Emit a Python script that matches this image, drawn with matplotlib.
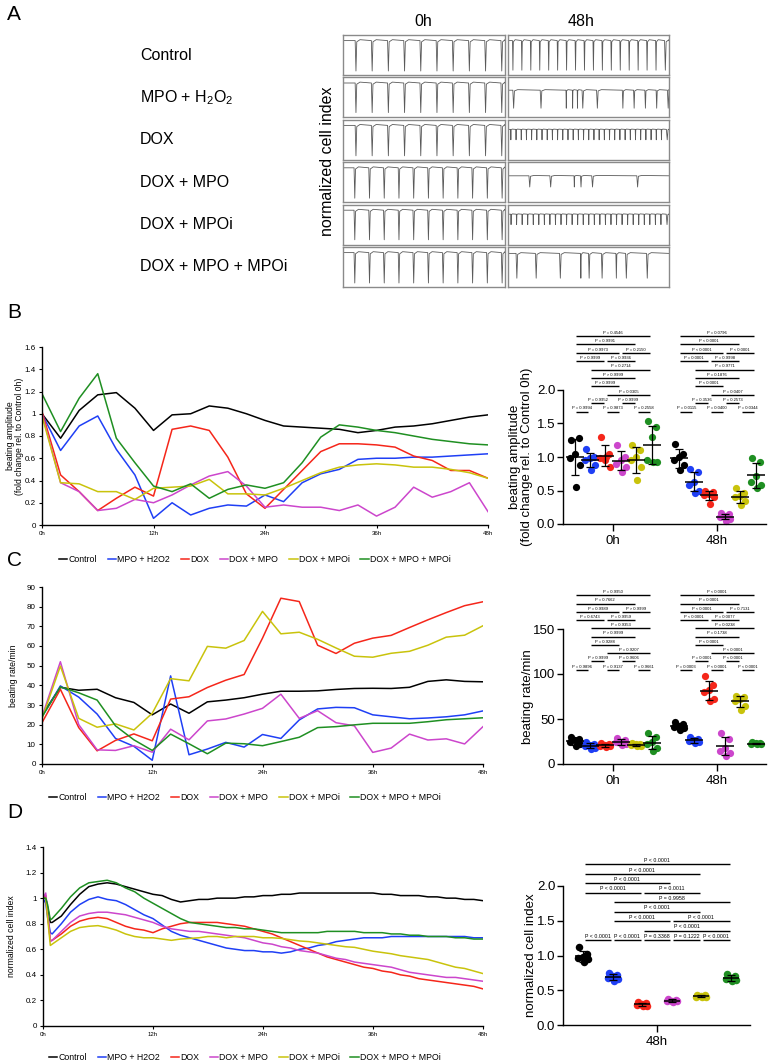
import numpy as np
import matplotlib
matplotlib.use('Agg')
import matplotlib.pyplot as plt
from matplotlib.lines import Line2D
from matplotlib.ticker import FuncFormatter
from matplotlib import font_manager

plt.rcParams['font.family'] = ['Liberation Sans', 'DejaVu Sans']
plt.rcParams['mathtext.fontset'] = 'custom'
plt.rcParams['mathtext.rm'] = 'Liberation Sans'
plt.rcParams['axes.linewidth'] = 1.0

_names = {f.name for f in font_manager.fontManager.ttflist}
NARROW = 'Liberation Sans Narrow' if 'Liberation Sans Narrow' in _names else 'Liberation Sans'
NARROW_FS = 13.5 if NARROW == 'Liberation Sans Narrow' else 11.5

# ---------------------------------------------------------------- data
GROUPS = ['Control', 'MPO + H2O2', 'DOX', 'DOX + MPO', 'DOX + MPOi', 'DOX + MPO + MPOi']
COLORS = ['#000000', '#1f3ff5', '#f5261a', '#cc46cc', '#c9c30c', '#1f8f22']

# Panel A (example traces)
A_ROW_LABELS = ['Control', 'MPO + H$_{\\mathregular{2}}$O$_{\\mathregular{2}}$', 'DOX',
                'DOX + MPO', 'DOX + MPOi', 'DOX + MPO + MPOi']
A_BEATS_0H = [10, 10, 10, 11, 11, 11]
A_DEPTH_0H = [0.76, 0.74, 0.76, 0.76, 0.74, 0.76]
A_BEATS_48H = [18,
               [0.03, 0.20, 0.36, 0.40, 0.43, 0.46, 0.55, 0.71, 0.78, 0.85, 0.92, 0.99],
               31,
               [0.13, 0.26, 0.41, 0.45, 0.52, 0.80],
               29,
               [0.05, 0.17, 0.32, 0.45, 0.50, 0.58, 0.67, 0.73, 0.86]]
A_DEPTH_48H = [0.74, 0.45, 0.26, 0.28, 0.26, 0.62]
A_BASE_48H = [0.86, 0.68, 0.76, 0.66, 0.76, 0.84]

# Panel B / C line charts (every 2 h)
TIME_H = list(range(0, 49, 2))
AMP_CONTROL = [1.0, 0.78, 1.03, 1.17, 1.19, 1.05, 0.85, 0.99, 1.0, 1.07, 1.05, 1.0, 0.94,
               0.89, 0.88, 0.87, 0.86, 0.83, 0.85, 0.88, 0.89, 0.91, 0.94, 0.97, 0.99]
AMP_MPO_H2O2 = [1.0, 0.67, 0.89, 0.98, 0.68, 0.45, 0.06, 0.20, 0.09, 0.15, 0.18, 0.17, 0.27,
                0.21, 0.38, 0.46, 0.50, 0.59, 0.60, 0.60, 0.61, 0.61, 0.62, 0.63, 0.64]
AMP_DOX = [1.02, 0.45, 0.30, 0.13, 0.24, 0.34, 0.26, 0.86, 0.89, 0.85, 0.61, 0.28, 0.15,
           0.32, 0.49, 0.66, 0.73, 0.73, 0.72, 0.70, 0.62, 0.58, 0.49, 0.49, 0.42]
AMP_DOX_MPO = [1.0, 0.38, 0.30, 0.13, 0.15, 0.23, 0.20, 0.27, 0.36, 0.44, 0.48, 0.35, 0.16,
               0.18, 0.16, 0.16, 0.13, 0.18, 0.08, 0.16, 0.34, 0.25, 0.30, 0.38, 0.12]
AMP_DOX_MPOI = [0.98, 0.38, 0.37, 0.30, 0.30, 0.23, 0.33, 0.34, 0.35, 0.41, 0.28, 0.28, 0.27,
                0.33, 0.40, 0.47, 0.52, 0.54, 0.55, 0.54, 0.52, 0.52, 0.50, 0.47, 0.42]
AMP_DOX_MPO_MPOI = [1.18, 0.84, 1.14, 1.36, 0.78, 0.56, 0.35, 0.30, 0.37, 0.24, 0.32, 0.36, 0.33,
                    0.38, 0.56, 0.79, 0.90, 0.88, 0.85, 0.83, 0.80, 0.77, 0.75, 0.73, 0.72]

RATE_CONTROL = [25, 39, 37.5, 38, 33.7, 31.3, 25, 30.5, 25.8, 31.6, 32.5, 33.7, 35.5,
                37, 37, 37.2, 37.9, 38.4, 38.5, 38.4, 39, 42, 42.8, 42, 41.8]
RATE_MPO_H2O2 = [24, 39.7, 34, 25.4, 13, 9, 1.9, 44.8, 4.7, 7.6, 11, 8.6, 15,
                 13, 22.4, 28, 28.8, 28.6, 25, 24, 23, 23.4, 24, 25, 27]
RATE_DOX = [21, 38, 18.5, 6.7, 12, 15.3, 11.8, 33, 34.2, 38.9, 42.6, 45.5, 64,
            84.3, 82.6, 60.4, 56.2, 61.4, 64, 65.4, 69.4, 73.3, 77, 80.5, 82.5]
RATE_DOX_MPO = [24, 52, 20, 7.2, 6.9, 9.3, 6, 17.7, 12.3, 21.9, 22.9, 25.4, 28.3,
                35.5, 23.2, 27.1, 21, 19.4, 5.9, 8.1, 15.2, 12.2, 12.8, 10.2, 19]
RATE_DOX_MPOI = [23, 49.8, 23.2, 18.7, 20.4, 17.3, 25.8, 43.4, 42.3, 59.8, 58.9, 62.8, 77.6,
                 66.2, 67, 63.4, 59, 54.8, 54.3, 56.3, 57.3, 60.4, 64.5, 65.5, 70.3]
RATE_DOX_MPO_MPOI = [24, 39.2, 36.2, 32.5, 19.4, 12.3, 6.9, 15.2, 10.3, 5.2, 10.6, 10.3, 9.3,
                     11.4, 13.6, 18.5, 19, 19.9, 20.7, 20.7, 20.7, 21.5, 22.5, 23, 23.5]

# Panel D line chart (hours)
CI_TIME_H = [0, 0.3, 0.5, 0.8] + list(range(1, 49))
CI_CONTROL = [1.0, 1.0, 0.93, 0.81, 0.81, 0.86, 0.95, 1.03, 1.09, 1.11, 1.12, 1.11, 1.09, 1.07,
              1.05, 1.03, 1.02, 0.99, 0.97, 0.98, 0.99, 0.99, 1.0, 1.0, 1.0, 1.01, 1.01, 1.02,
              1.02, 1.03, 1.03, 1.04, 1.04, 1.04, 1.04, 1.04, 1.04, 1.04, 1.04, 1.04, 1.03,
              1.03, 1.02, 1.02, 1.02, 1.01, 1.01, 1.0, 1.0, 0.99, 0.99, 0.98]
CI_MPO_H2O2 = [1.0, 0.96, 0.85, 0.73, 0.72, 0.80, 0.89, 0.95, 0.99, 1.01, 0.99, 0.98, 0.95, 0.91,
               0.87, 0.84, 0.79, 0.74, 0.71, 0.69, 0.67, 0.65, 0.63, 0.61, 0.60, 0.59, 0.59,
               0.58, 0.58, 0.57, 0.58, 0.60, 0.61, 0.63, 0.64, 0.66, 0.67, 0.68, 0.69, 0.69,
               0.69, 0.70, 0.70, 0.70, 0.70, 0.70, 0.70, 0.70, 0.70, 0.70, 0.69, 0.69]
CI_DOX = [1.0, 1.02, 0.88, 0.67, 0.67, 0.72, 0.78, 0.82, 0.84, 0.85, 0.84, 0.81, 0.78, 0.76,
          0.75, 0.73, 0.76, 0.78, 0.80, 0.81, 0.81, 0.81, 0.81, 0.80, 0.79, 0.78, 0.76, 0.74,
          0.72, 0.69, 0.66, 0.63, 0.60, 0.57, 0.54, 0.52, 0.50, 0.48, 0.46, 0.45, 0.43, 0.42,
          0.40, 0.39, 0.37, 0.36, 0.35, 0.34, 0.33, 0.32, 0.31, 0.29]
CI_DOX_MPO = [1.0, 1.04, 0.88, 0.66, 0.67, 0.74, 0.81, 0.86, 0.88, 0.89, 0.89, 0.88, 0.87, 0.85,
              0.83, 0.81, 0.78, 0.76, 0.75, 0.74, 0.74, 0.73, 0.72, 0.71, 0.70, 0.69, 0.67,
              0.65, 0.64, 0.62, 0.61, 0.59, 0.58, 0.57, 0.55, 0.53, 0.52, 0.50, 0.49, 0.48,
              0.47, 0.46, 0.44, 0.42, 0.41, 0.40, 0.39, 0.38, 0.38, 0.37, 0.36, 0.35]
CI_DOX_MPOI = [1.0, 1.0, 0.85, 0.63, 0.64, 0.69, 0.74, 0.77, 0.78, 0.785, 0.77, 0.75, 0.72, 0.70,
               0.69, 0.69, 0.68, 0.67, 0.68, 0.685, 0.69, 0.70, 0.70, 0.69, 0.70, 0.70, 0.70,
               0.69, 0.69, 0.685, 0.675, 0.665, 0.66, 0.65, 0.64, 0.63, 0.62, 0.615, 0.60,
               0.585, 0.575, 0.565, 0.55, 0.54, 0.53, 0.52, 0.50, 0.48, 0.46, 0.45, 0.43, 0.41]
CI_DOX_MPO_MPOI = [1.0, 1.0, 0.95, 0.83, 0.84, 0.92, 1.01, 1.08, 1.12, 1.13, 1.14, 1.12, 1.08,
                   1.05, 1.0, 0.96, 0.92, 0.88, 0.84, 0.81, 0.80, 0.79, 0.78, 0.77, 0.77, 0.76,
                   0.76, 0.75, 0.74, 0.73, 0.73, 0.73, 0.73, 0.73, 0.74, 0.74, 0.74, 0.74, 0.73,
                   0.73, 0.73, 0.72, 0.72, 0.71, 0.71, 0.70, 0.70, 0.70, 0.69, 0.69, 0.68, 0.68]

# Scatter data (n = 6 per group)
AMP_0H = [[1.25, 1.28, 1.05, 0.98, 0.88, 0.55],
          [1.12, 1.0, 0.98, 0.95, 0.88, 0.80],
          [1.30, 1.05, 0.95, 0.98, 0.85, 1.0],
          [1.18, 1.0, 0.95, 0.90, 0.85, 0.78],
          [1.18, 1.10, 1.0, 0.95, 0.85, 0.65],
          [1.53, 1.45, 1.30, 0.95, 0.92, 0.92]]
AMP_48H = [[1.20, 1.05, 1.0, 0.95, 0.88, 0.80],
           [0.82, 0.78, 0.63, 0.58, 0.50, 0.47],
           [0.50, 0.48, 0.45, 0.43, 0.40, 0.30],
           [0.17, 0.15, 0.12, 0.10, 0.08, 0.05],
           [0.53, 0.47, 0.42, 0.40, 0.35, 0.28],
           [0.98, 0.93, 0.72, 0.62, 0.58, 0.53]]
RATE_0H = [[30, 28, 27, 25, 22, 20],
           [25, 22, 21, 20, 18, 17],
           [23, 22, 21, 20, 20, 19],
           [29, 27, 25, 24, 22, 21],
           [23, 22, 22, 21, 20, 20],
           [34, 30, 25, 22, 18, 14]]
RATE_48H = [[47, 44, 42, 41, 40, 38],
            [30, 28, 27, 26, 24, 23],
            [98, 88, 82, 80, 72, 70],
            [35, 28, 18, 15, 12, 9],
            [76, 74, 72, 70, 65, 60],
            [24, 23, 23, 22, 22, 22]]
CI_48H = [[1.12, 1.02, 0.98, 0.96, 0.95, 0.90],
          [0.75, 0.72, 0.70, 0.68, 0.66, 0.63],
          [0.33, 0.31, 0.30, 0.29, 0.28, 0.27],
          [0.38, 0.36, 0.35, 0.34, 0.34, 0.33],
          [0.43, 0.43, 0.42, 0.41, 0.41, 0.40],
          [0.74, 0.70, 0.67, 0.66, 0.65, 0.64]]

# Multiple comparisons (pairs of group indices per bracket row)
BR_ROWS_BC = [[(0, 5)], [(0, 4)], [(0, 3), (3, 5)], [(0, 2), (2, 4)], [(1, 5)], [(1, 4)],
              [(1, 3)], [(2, 5)], [(1, 2), (3, 4)], [(0, 1), (2, 3), (4, 5)]]
P_AMP_0H = ['P = 0.4546', 'P = 0.9991', 'P = 0.9973', 'P = 0.2150', 'P > 0.9999', 'P = 0.9936',
            'P = 0.2714', 'P > 0.9999', 'P > 0.9999', 'P = 0.0305', 'P = 0.9952', 'P > 0.9999',
            'P = 0.9994', 'P = 0.9873', 'P = 0.2558']
P_AMP_48H = ['P = 0.0796', 'P < 0.0001', 'P < 0.0001', 'P < 0.0001', 'P = 0.0001', 'P = 0.9998',
             'P = 0.9771', 'P = 0.1876', 'P < 0.0001', 'P = 0.0407', 'P = 0.3536', 'P = 0.2573',
             'P = 0.0115', 'P = 0.0400', 'P = 0.0344']
P_RATE_0H = ['P = 0.9950', 'P = 0.7662', 'P = 0.9989', 'P > 0.9999', 'P = 0.6743', 'P = 0.9959',
             'P = 0.9353', 'P > 0.9999', 'P = 0.9288', 'P = 0.9207', 'P > 0.9999', 'P = 0.9606',
             'P = 0.9896', 'P = 0.9137', 'P = 0.9661']
P_RATE_48H = ['P < 0.0001', 'P = 0.0001', 'P < 0.0001', 'P = 0.7131', 'P < 0.0001', 'P = 0.0077',
              'P = 0.0238', 'P = 0.1738', 'P < 0.0001', 'P < 0.0001', 'P = 0.0001', 'P < 0.0001',
              'P = 0.0003', 'P < 0.0001', 'P < 0.0001']
BR_ROWS_D = [[(0, 5)], [(0, 4)], [(0, 3)], [(0, 2), (2, 4)], [(1, 5)], [(1, 4)],
             [(1, 3), (3, 5)], [(2, 5)], [(0, 1), (1, 2), (2, 3), (3, 4), (4, 5)]]
P_CI_48H = ['P < 0.0001', 'P < 0.0001', 'P < 0.0001', 'P < 0.0001', 'P = 0.0011', 'P = 0.9958',
            'P < 0.0001', 'P < 0.0001', 'P < 0.0001', 'P < 0.0001', 'P < 0.0001', 'P < 0.0001',
            'P = 0.3368', 'P = 0.1222', 'P < 0.0001']

# ---------------------------------------------------------------- layout helpers
W, H = 768, 1063
fig = plt.figure(figsize=(W / 100, H / 100), dpi=100)


def add_ax(l, t, r, b):
    return fig.add_axes([l / W, 1 - b / H, (r - l) / W, (b - t) / H])


def fx(x):
    return x / W


def fy(y):
    return 1 - y / H


def short_fmt(v, p=None):
    s = f'{v:.1f}'
    return s[:-2] if s.endswith('.0') else s


# ---------------------------------------------------------------- panel letters
for letter, y in zip('ABCD', [14, 313, 561, 813]):
    fig.text(fx(7), fy(y), letter, fontsize=15, ha='left', va='center')

# ---------------------------------------------------------------- panel A
fig.text(fx(423), fy(21), '0h', fontsize=NARROW_FS, family=NARROW, ha='center', va='center')
fig.text(fx(581), fy(21), '48h', fontsize=NARROW_FS, family=NARROW, ha='center', va='center')
fig.text(fx(327), fy(161), 'normalized cell index', fontsize=11.5, rotation=90,
         ha='center', va='center')


def beat_trace(pos, depth, base):
    pos = sorted(pos)
    xs, ys = [0.0], [base]
    for k, p in enumerate(pos):
        nxt = pos[k + 1] if k + 1 < len(pos) else p + 0.1
        gap = max(min(nxt - p, 0.1), 0.02)
        xs += [p, p + 0.05 * gap, p + 0.1 * gap, p + 0.3 * gap]
        ys += [base, base - depth, base - 0.04 * depth, base + 0.03 * depth]
    xs.append(1.0)
    ys.append(base)
    xs = np.clip(xs, 0, 1)
    return xs, ys


ROW_TOP, ROW_H, ROW_GAP = 35, 40, 2.4
for i in range(6):
    t = ROW_TOP + i * (ROW_H + ROW_GAP)
    b = t + ROW_H
    fig.text(fx(140), fy((t + b) / 2), A_ROW_LABELS[i], fontsize=NARROW_FS, family=NARROW,
             ha='left', va='center')
    n0 = A_BEATS_0H[i]
    pos0 = list((np.arange(n0) + 0.75) / n0)
    b48 = A_BEATS_48H[i]
    pos48 = list((np.arange(b48) + 0.5) / b48) if isinstance(b48, int) else b48
    for (l, r), pos, dep, base in [((343, 505), pos0, A_DEPTH_0H[i], 0.86),
                                   ((508, 669), pos48, A_DEPTH_48H[i], A_BASE_48H[i])]:
        ax = add_ax(l, t, r, b)
        xs, ys = beat_trace(pos, dep, base)
        ax.plot(xs, ys, color='#5a5a5a', lw=0.6)
        ax.set_xlim(0, 1)
        ax.set_ylim(0, 1)
        ax.set_xticks([])
        ax.set_yticks([])
        for sp in ax.spines.values():
            sp.set_color('#8a8a8a')
            sp.set_linewidth(1.0)


# ---------------------------------------------------------------- line panels
def line_panel(box, t, series, ymax, ystep, ylabel, ylab_xy, leg_xy):
    ax = add_ax(*box)
    for vals, c in zip(series, COLORS):
        ax.plot(t, vals, color=c, lw=1.1)
    ax.set_xlim(0, 48)
    ax.set_ylim(0, ymax)
    ax.set_xticks([0, 12, 24, 36, 48])
    ax.set_xticklabels(['0h', '12h', '24h', '36h', '48h'])
    ax.set_yticks(np.arange(0, ymax + ystep / 2, ystep))
    ax.yaxis.set_major_formatter(FuncFormatter(short_fmt))
    for s in ['top', 'right']:
        ax.spines[s].set_visible(False)
    ax.tick_params(axis='y', labelsize=5.8, length=2.5, width=0.8, pad=2)
    ax.tick_params(axis='x', labelsize=4.4, length=2, width=0.8, pad=2)
    fig.text(fx(ylab_xy[0]), fy(ylab_xy[1]), ylabel, fontsize=6.2, rotation=90,
             ha='center', va='center', linespacing=1.1)
    handles = [Line2D([], [], color=c, lw=1.1) for c in COLORS]
    fig.legend(handles, GROUPS, ncol=6, loc='center left',
               bbox_to_anchor=(fx(leg_xy[0]), fy(leg_xy[1])), frameon=False,
               fontsize=6.3, handlelength=0.95, handletextpad=0.12, columnspacing=1.25,
               borderpad=0, borderaxespad=0)
    return ax


line_panel((42, 347, 488, 525), TIME_H,
           [AMP_CONTROL, AMP_MPO_H2O2, AMP_DOX, AMP_DOX_MPO, AMP_DOX_MPOI, AMP_DOX_MPO_MPOI],
           1.6, 0.2, 'beating amplitude\n(fold change rel. to Control 0h)', (15, 436), (59, 560))
line_panel((42, 587, 483, 764), TIME_H,
           [RATE_CONTROL, RATE_MPO_H2O2, RATE_DOX, RATE_DOX_MPO, RATE_DOX_MPOI, RATE_DOX_MPO_MPOI],
           90, 10, 'beating rate/min', (13, 676), (49, 798))
line_panel((43, 847, 483, 1026), CI_TIME_H,
           [CI_CONTROL, CI_MPO_H2O2, CI_DOX, CI_DOX_MPO, CI_DOX_MPOI, CI_DOX_MPO_MPOI],
           1.4, 0.2, 'normalized cell index', (12, 936), (49, 1058))

# ---------------------------------------------------------------- scatter panels
JITTER_PX = [-4, 4, 0, -5, 5, 1]


def dot_panel(box, ymax, centers_px, sp_px, datasets, xlabels, yticks, yfmt, ylabel, ylab_x,
              rows, plabels, row_top_px, row_step_px, fs, hw_px, ms):
    l, t, r, b = box
    ax = add_ax(l, t, r, b)
    if len(centers_px) > 1:
        unit = centers_px[1] - centers_px[0]
        x_of = [0, 1]
    else:
        unit = sp_px
        x_of = [0]
    x0px = centers_px[0]
    ax.set_xlim((l - x0px) / unit, (r - x0px) / unit)
    ax.set_ylim(0, ymax)
    sp = sp_px / unit
    ppy = ymax / (b - t)
    for xc, data in zip(x_of, datasets):
        for k, (vals, c) in enumerate(zip(data, COLORS)):
            gx = xc + (k - 2.5) * sp
            xs = gx + np.array(JITTER_PX) / unit
            ax.plot(xs, vals, 'o', color=c, ms=ms, mec='none', zorder=2, clip_on=False)
            m = np.mean(vals)
            s = np.std(vals, ddof=1)
            ax.hlines(m, gx - hw_px / unit, gx + hw_px / unit, color='k', lw=1.1, zorder=4)
            ax.errorbar([gx], [m], yerr=[s], fmt='none', ecolor='k', elinewidth=0.9,
                        capsize=2.6, capthick=0.9, zorder=4)
    for xc, labels in zip(x_of, plabels):
        it = iter(labels)
        for ri, pairs in enumerate(rows):
            ypx = row_top_px + ri * row_step_px
            y = (b - ypx) * ppy
            for (i, j) in pairs:
                x1 = xc + (i - 2.5) * sp + 1.5 / unit
                x2 = xc + (j - 2.5) * sp - 1.5 / unit
                ax.plot([x1, x2], [y, y], color='k', lw=1.0, clip_on=False,
                        solid_capstyle='butt')
                ax.text((x1 + x2) / 2, y + 1.2 * ppy, next(it), ha='center', va='bottom',
                        fontsize=fs, clip_on=False)
    ax.set_xticks(x_of)
    ax.set_xticklabels(xlabels)
    ax.set_yticks(yticks)
    ax.yaxis.set_major_formatter(FuncFormatter(lambda v, p: yfmt.format(v)))
    for s in ['top', 'right']:
        ax.spines[s].set_visible(False)
    for s in ['left', 'bottom']:
        ax.spines[s].set_linewidth(1.0)
    ax.tick_params(axis='both', labelsize=9.5, length=4, width=1.0)
    ax.tick_params(axis='y', pad=1.5)
    ax.tick_params(axis='x', pad=3, length=5)
    fig.text(fx(ylab_x), fy((t + b) / 2), ylabel, fontsize=9.5, rotation=90,
             ha='center', va='center', linespacing=1.05)
    return ax


dot_panel((563, 390, 766, 524), 2.0, [613, 717], 15.4, [AMP_0H, AMP_48H], ['0h', '48h'],
          [0, 0.5, 1.0, 1.5, 2.0], '{:.1f}',
          'beating amplitude\n(fold change rel. to Control 0h)', 521,
          BR_ROWS_BC, [P_AMP_0H, P_AMP_48H], 336, 8.4, 3.0, 9, 5.2)
dot_panel((563, 629, 766, 764), 150, [613, 717], 15.4, [RATE_0H, RATE_48H], ['0h', '48h'],
          [0, 50, 100, 150], '{:.0f}', 'beating rate/min', 528,
          BR_ROWS_BC, [P_RATE_0H, P_RATE_48H], 595.3, 8.27, 3.0, 9, 5.2)
dot_panel((563, 886, 750, 1025), 2.0, [657], 29.6, [CI_48H], ['48h'],
          [0, 0.5, 1.0, 1.5, 2.0], '{:.1f}', 'normalized cell index', 531,
          BR_ROWS_D, [P_CI_48H], 864.3, 9.46, 3.8, 8, 5.4)

fig.savefig('out.png', dpi=100)
